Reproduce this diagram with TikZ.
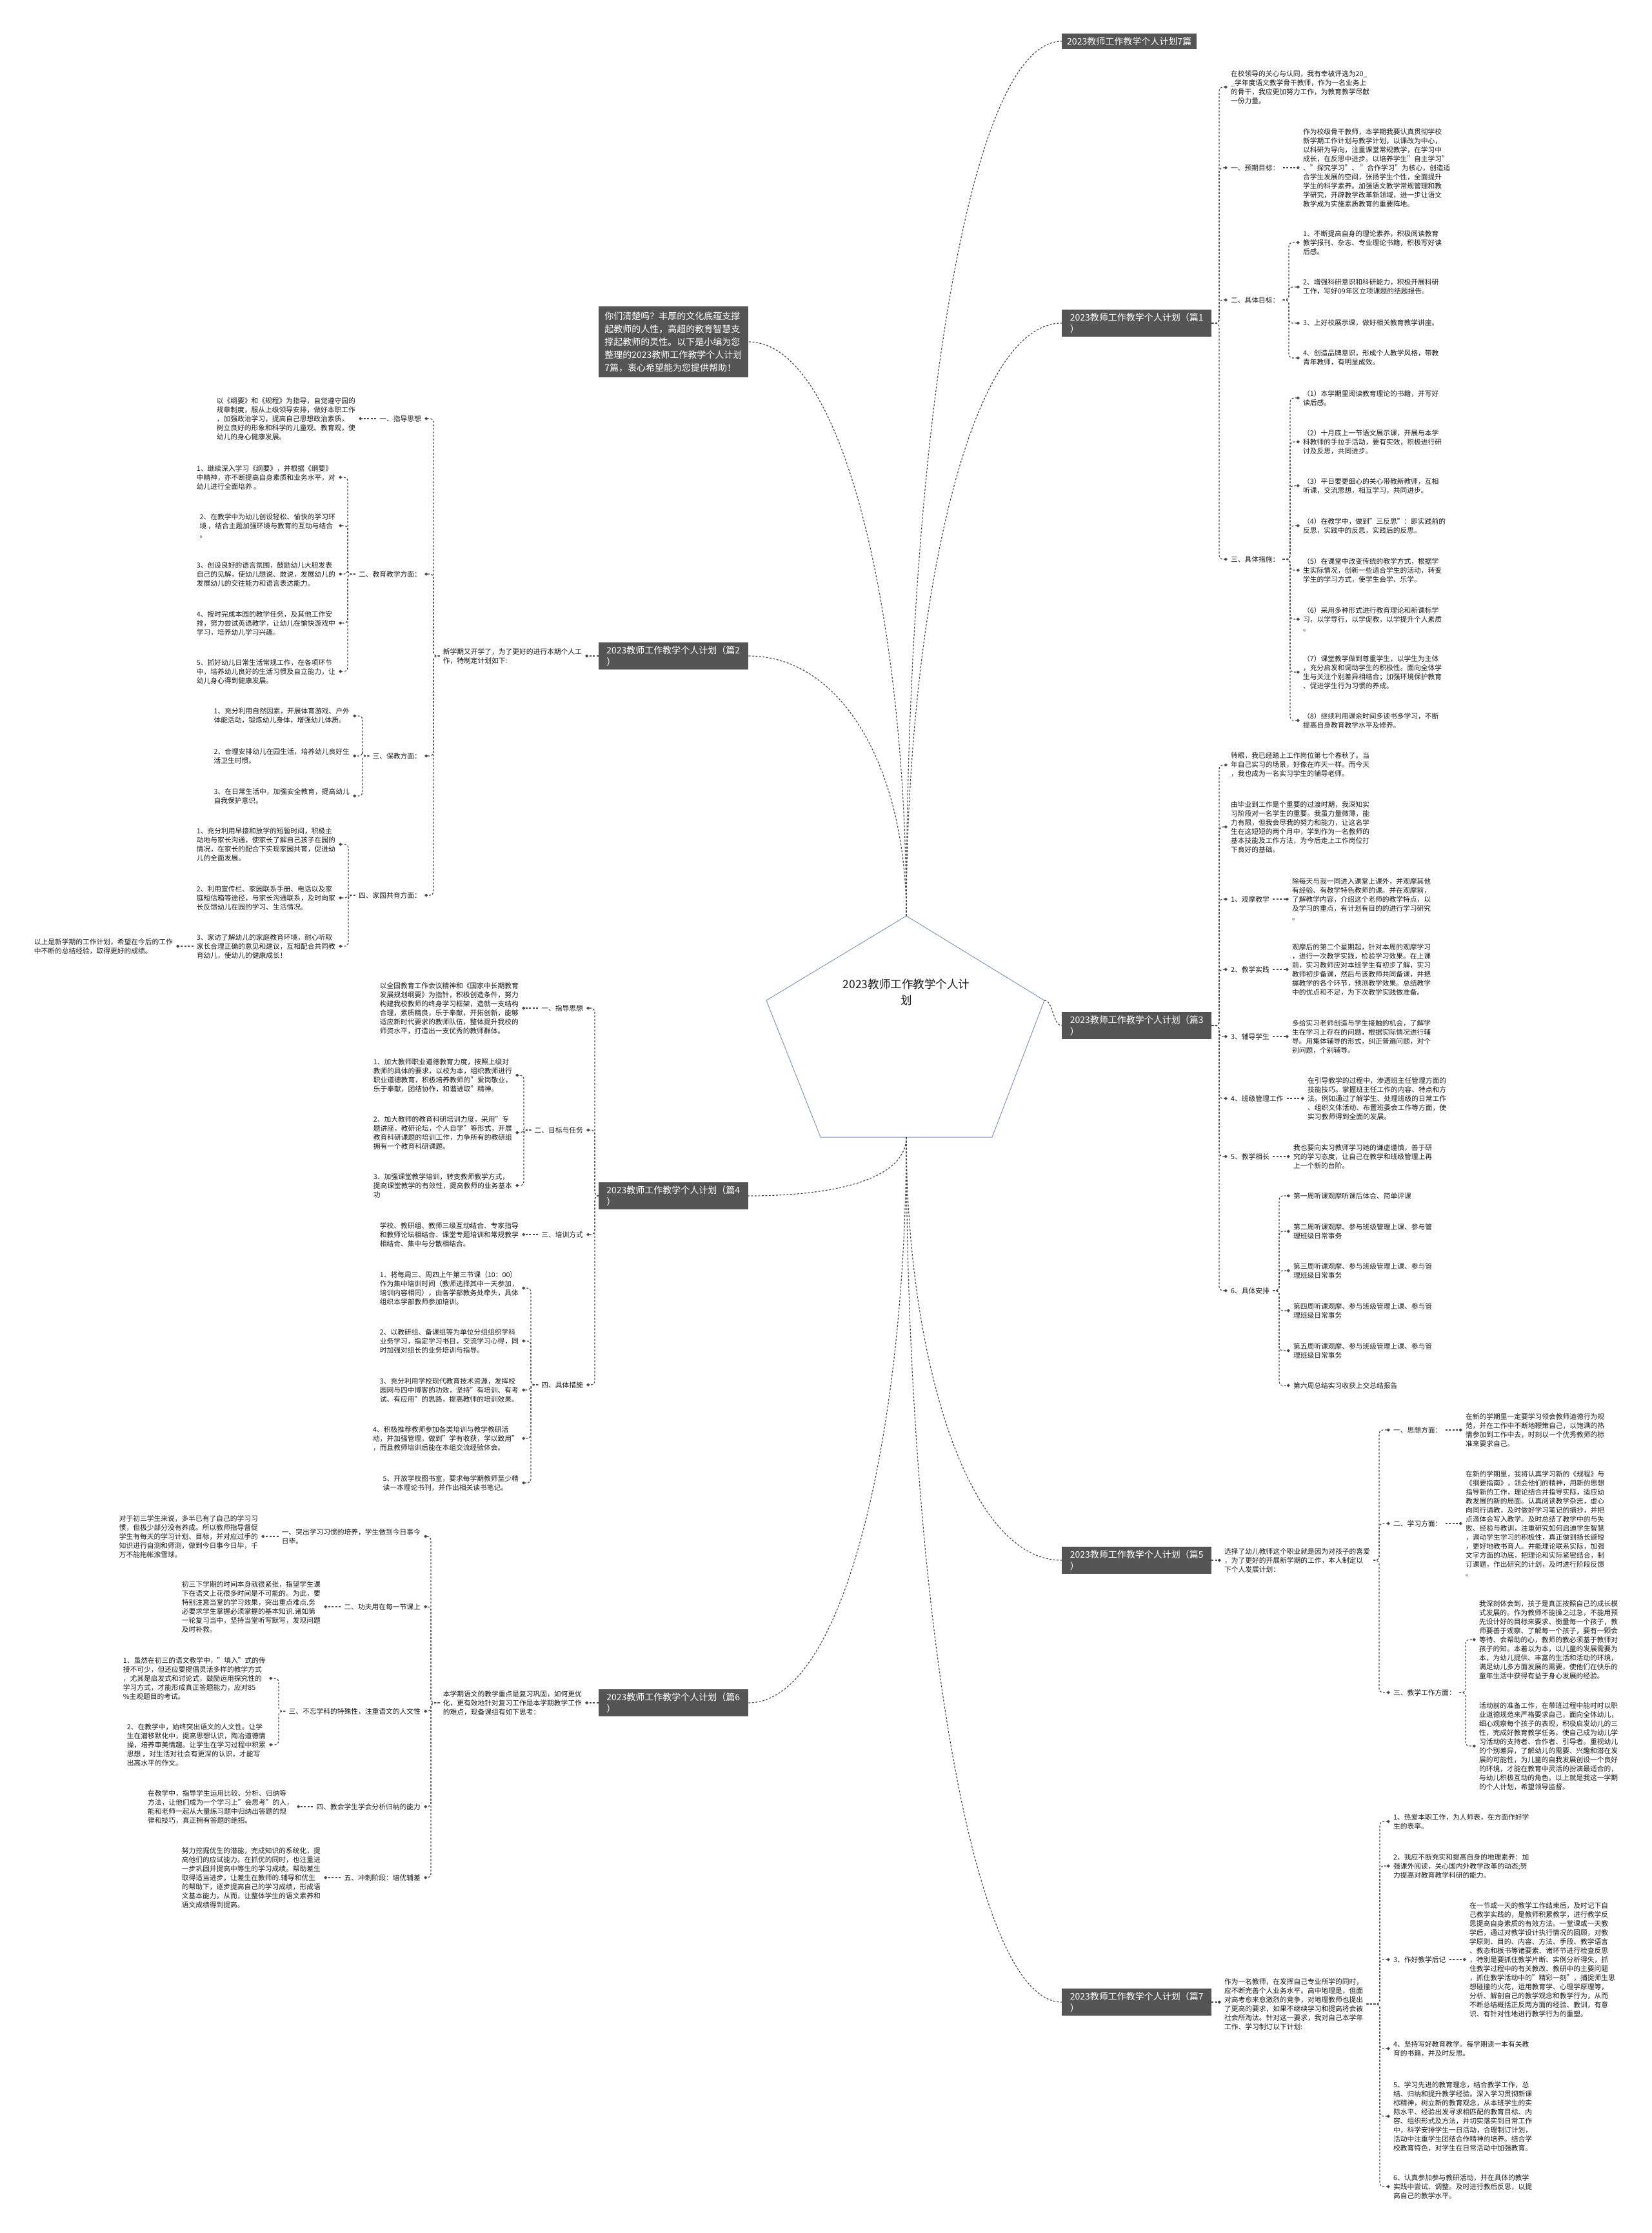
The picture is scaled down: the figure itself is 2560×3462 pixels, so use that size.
\documentclass[tikz,border=0pt]{standalone}
\usepackage{fontspec}
\setmainfont{Noto Sans CJK SC}
\usetikzlibrary{arrows.meta}
\definecolor{boxc}{HTML}{555555}
\definecolor{lc}{HTML}{4A4A4A}
\definecolor{pc}{HTML}{7F97C2}
\definecolor{tc}{HTML}{1A1A1A}
\newcommand\linkR[3]{\draw[conn] (#1.east) -- (#1.east -| #3) |- (#2.west);}
\newcommand\linkL[3]{\draw[conn] (#1.west) -- (#1.west -| #3) |- (#2.east);}
\newcommand\linkRd[2]{\draw[conn] (#1.east) -- (#2.west |- #1.east);}
\newcommand\linkLd[2]{\draw[conn] (#1.west) -- (#2.east |- #1.west);}
\begin{document}
\begin{tikzpicture}[x=1pt,y=-1pt,
 txt/.style={font=\fontsize{10.75}{14}\selectfont, align=left, inner sep=5pt, text=tc},
 txtR/.style={txt, anchor=west},
 txtL/.style={txt, anchor=east},
 mbox/.style={fill=boxc, text=white, font=\fontsize{14}{18}\selectfont, align=left, inner xsep=8pt, inner ysep=5pt, minimum width=232pt},
 conn/.style={draw=lc, line width=1.2pt, dash pattern=on 3pt off 2.5pt, rounded corners=6pt, -{Diamond[length=5.5pt,width=5pt]}},
 mconn/.style={draw=lc, line width=1.2pt, dash pattern=on 3pt off 2.5pt}
]
\useasboundingbox (0,0) rectangle (2560,3462);
\fill[white] (0,0) rectangle (2560,3462);

% ---------- centre ----------
\coordinate (ptop) at (1405,1420);
\coordinate (pr) at (1619,1551);
\coordinate (pl) at (1188,1551);
\coordinate (pbr) at (1538,1763);
\coordinate (pbl) at (1272,1763);
\coordinate (pbot) at (1405,1763);
\draw[pc, line width=1pt, fill=white] (ptop) -- (pr) -- (pbr) -- (pbl) -- (pl) -- cycle;
\node[font=\fontsize{17.5}{25}\selectfont, align=center, text=tc] (cn) at (1405,1538) {2023教师工作教学个人计\\划};

% ---------- main boxes ----------
\node[mbox, minimum width=0pt, anchor=west] (hdr) at (1646,64) {2023教师工作教学个人计划7篇};
\node[mbox, anchor=west] (b1) at (1646,501) {2023教师工作教学个人计划（篇1\\）};
\node[mbox, anchor=east, font=\fontsize{14}{20}\selectfont, inner ysep=8pt] (intro) at (1160,530) {你们清楚吗？丰厚的文化底蕴支撑\\起教师的人性，高超的教育智慧支\\撑起教师的灵性。以下是小编为您\\整理的2023教师工作教学个人计划\\7篇，衷心希望能为您提供帮助！};
\node[mbox, anchor=east] (b2) at (1160,1017) {2023教师工作教学个人计划（篇2\\）};
\node[mbox, anchor=west] (b3) at (1646,1590) {2023教师工作教学个人计划（篇3\\）};
\node[mbox, anchor=east] (b4) at (1160,1854) {2023教师工作教学个人计划（篇4\\）};
\node[mbox, anchor=west] (b5) at (1646,2419) {2023教师工作教学个人计划（篇5\\）};
\node[mbox, anchor=east] (b6) at (1160,2640) {2023教师工作教学个人计划（篇6\\）};
\node[mbox, anchor=west] (b7) at (1646,3104) {2023教师工作教学个人计划（篇7\\）};

\draw[mconn] (ptop) .. controls +(0,-700) and +(-150,0) .. (hdr.west);
\draw[mconn] (ptop) .. controls +(0,-450) and +(-150,0) .. (b1.west);
\draw[mconn] (ptop) .. controls +(0,-450) and +(150,0) .. (intro.east);
\draw[mconn] (ptop) .. controls +(0,-220) and +(150,0) .. (b2.east);
\draw[mconn] (pr) .. controls +(14,0) and +(-14,0) .. (b3.west);
\draw[mconn] (pbot) .. controls +(0,60) and +(150,0) .. (b4.east);
\draw[mconn] (pbot) .. controls +(0,450) and +(150,0) .. (b6.east);
\draw[mconn] (pbot) .. controls +(0,330) and +(-150,0) .. (b5.west);
\draw[mconn] (pbot) .. controls +(0,650) and +(-150,0) .. (b7.west);

% ---------- 篇1 ----------
\coordinate (s1) at (1890,0);
\coordinate (s1b) at (1998,0);
\coordinate (s1c) at (2000,0);
\node[txtR] (p1a) at (1903,135) {在校领导的关心与认同，我有幸被评选为20\_\\\_学年度语文教学骨干教师，作为一名业务上\\的骨干，我应更加努力工作，为教育教学尽献\\一份力量。};
\node[txtR] (l1a) at (1903,260) {一、预期目标：};
\node[txtR] (t1a) at (2015,260) {作为校级骨干教师，本学期我要认真贯彻学校\\新学期工作计划与教学计划，以课改为中心，\\以科研为导向，注重课堂常规教学，在学习中\\成长，在反思中进步。以培养学生"自主学习"\\、"探究学习"、 "合作学习"为核心，创造适\\合学生发展的空间，张扬学生个性，全面提升\\学生的科学素养。加强语文教学常规管理和教\\学研究，开辟教学改革新领域，进一步让语文\\教学成为实施素质教育的重要阵地。};
\node[txtR] (l1b) at (1903,465) {二、具体目标：};
\node[txtR] (t1b1) at (2015,376) {1、不断提高自身的理论素养，积极阅读教育\\教学报刊、杂志、专业理论书籍，积极写好读\\后感。};
\node[txtR] (t1b2) at (2015,445) {2、增强科研意识和科研能力，积极开展科研\\工作，写好09年区立项课题的结题报告。};
\node[txtR] (t1b3) at (2015,501) {3、上好校展示课，做好相关教育教学讲座。};
\node[txtR] (t1b4) at (2015,555) {4、创造品牌意识，形成个人教学风格，带教\\青年教师，有明显成效。};
\node[txtR] (l1c) at (1903,867) {三、具体措施：};
\node[txtR] (t1c1) at (2015,617) {（1）本学期里阅读教育理论的书籍，并写好\\读后感。};
\node[txtR] (t1c2) at (2015,685) {（2）十月底上一节语文展示课，开展与本学\\科教师的手拉手活动，要有实效，积极进行研\\讨及反思，共同进步。};
\node[txtR] (t1c3) at (2015,753) {（3）平日要更细心的关心带教新教师，互相\\听课，交流思想，相互学习，共同进步。};
\node[txtR] (t1c4) at (2015,815) {（4）在教学中，做到"三反思"：即实践前的\\反思，实践中的反思，实践后的反思。};
\node[txtR] (t1c5) at (2015,884) {（5）在课堂中改变传统的教学方式，根据学\\生实际情况，创新一些适合学生的活动，转变\\学生的学习方式，使学生会学、乐学。};
\node[txtR] (t1c6) at (2015,960) {（6）采用多种形式进行教育理论和新课标学\\习，以学导行，以学促教，以学提升个人素质\\。};
\node[txtR] (t1c7) at (2015,1042) {（7）课堂教学做到尊重学生，以学生为主体\\，充分启发和调动学生的积极性。面向全体学\\生与关注个别差异相结合；加强环境保护教育\\、促进学生行为习惯的养成。};
\node[txtR] (t1c8) at (2015,1117) {（8）继续利用课余时间多读书多学习，不断\\提高自身教育教学水平及修养。};
\linkR{b1}{p1a}{s1}
\linkR{b1}{l1a}{s1}
\linkR{b1}{l1b}{s1}
\linkR{b1}{l1c}{s1}
\linkRd{l1a}{t1a}
\foreach \c in {t1b1,t1b2,t1b3,t1b4}{\linkR{l1b}{\c}{s1b}}
\foreach \c in {t1c1,t1c2,t1c3,t1c4,t1c5,t1c6,t1c7,t1c8}{\linkR{l1c}{\c}{s1c}}

% ---------- 篇3 ----------
\coordinate (s3) at (1890,0);
\coordinate (s3f) at (1983,0);
\node[txtR] (p3a) at (1903,1186) {转眼，我已经踏上工作岗位第七个春秋了。当\\年自己实习的场景，好像在昨天一样。而今天\\，我也成为一名实习学生的辅导老师。};
\node[txtR] (p3b) at (1903,1282) {由毕业到工作是个重要的过渡时期，我深知实\\习阶段对一名学生的重要。我虽力量微薄，能\\力有限，但我会尽我的努力和能力，让这名学\\生在这短短的两个月中，学到作为一名教师的\\基本技能及工作方法，为今后走上工作岗位打\\下良好的基础。};
\node[txtR] (l3a) at (1903,1394) {1、观摩教学};
\node[txtR] (t3a) at (1998,1394) {除每天与我一同进入课堂上课外，并观摩其他\\有经验、有教学特色教师的课。并在观摩前，\\了解教学内容，介绍这个老师的教学特点，以\\及学习的重点，有计划有目的的进行学习研究\\。};
\node[txtR] (l3b) at (1903,1503) {2、教学实践};
\node[txtR] (t3b) at (1998,1503) {观摩后的第二个星期起，针对本周的观摩学习\\，进行一次教学实践，检验学习效果。在上课\\前，实习教师应对本班学生有初步了解，实习\\教师初步备课，然后与该教师共同备课，并把\\握教学的各个环节，预测教学效果。总结教学\\中的优点和不足，为下次教学实践做准备。};
\node[txtR] (l3c) at (1903,1607) {3、辅导学生};
\node[txtR] (t3c) at (1998,1607) {多给实习老师创造与学生接触的机会，了解学\\生在学习上存在的问题，根据实际情况进行辅\\导。用集体辅导的形式，纠正普遍问题，对个\\别问题，个别辅导。};
\node[txtR] (l3d) at (1903,1703) {4、班级管理工作};
\node[txtR] (t3d) at (2022,1703) {在引导教学的过程中，渗透班主任管理方面的\\技能技巧。掌握班主任工作的内容、特点和方\\法。例如通过了解学生、处理班级的日常工作\\、组织文体活动、布置班委会工作等方面，使\\实习教师得到全面的发展。};
\node[txtR] (l3e) at (1903,1793) {5、教学相长};
\node[txtR] (t3e) at (2000,1793) {我也要向实习教师学习她的谦虚谨慎，善于研\\究的学习态度，让自己在教学和班级管理上再\\上一个新的台阶。};
\node[txtR] (l3f) at (1903,2001) {6、具体安排};
\node[txtR] (t3f1) at (2000,1854) {第一周听课观摩听课后体会、简单评课};
\node[txtR] (t3f2) at (2000,1909) {第二周听课观摩、参与班级管理上课、参与管\\理班级日常事务};
\node[txtR] (t3f3) at (2000,1970) {第三周听课观摩、参与班级管理上课、参与管\\理班级日常事务};
\node[txtR] (t3f4) at (2000,2032) {第四周听课观摩、参与班级管理上课、参与管\\理班级日常事务};
\node[txtR] (t3f5) at (2000,2094) {第五周听课观摩、参与班级管理上课、参与管\\理班级日常事务};
\node[txtR] (t3f6) at (2000,2148) {第六周总结实习收获上交总结报告};
\foreach \c in {p3a,p3b,l3a,l3b,l3c,l3d,l3e,l3f}{\linkR{b3}{\c}{s3}}
\linkRd{l3a}{t3a}
\linkRd{l3b}{t3b}
\linkRd{l3c}{t3c}
\linkRd{l3d}{t3d}
\linkRd{l3e}{t3e}
\foreach \c in {t3f1,t3f2,t3f3,t3f4,t3f5,t3f6}{\linkR{l3f}{\c}{s3f}}

% ---------- 篇5 ----------
\coordinate (s5) at (2138,0);
\coordinate (s5c) at (2272,0);
\node[txtR] (i5) at (1893,2419) {选择了幼儿教师这个职业就是因为对孩子的喜爱\\，为了更好的开展新学期的工作，本人制定以\\下个人发展计划：};
\node[txtR] (l5a) at (2155,2217) {一、思想方面：};
\node[txtR] (t5a) at (2267,2217) {在新的学期里一定要学习领会教师道德行为规\\范，并在工作中不断地鞭策自己，以饱满的热\\情参加到工作中去，时刻以一个优秀教师的标\\准来要求自己。};
\node[txtR] (l5b) at (2155,2362) {二、学习方面：};
\node[txtR] (t5b) at (2267,2362) {在新的学期里，我将认真学习新的《规程》与\\《纲要指南》，领会他们的精神，用新的思想\\指导新的工作，理论结合并指导实际，适应幼\\教发展的新的局面。认真阅读教学杂志，虚心\\向同行请教，及时做好学习笔记的摘抄，并把\\点滴体会写入教学。及时总结了教学中的与失\\败、经验与教训，注重研究如何启迪学生智慧\\，调动学生学习的积极性，真正做到扬长避短\\，更好地教书育人。并能理论联系实际，加强\\文字方面的功底，把理论和实际紧密结合，制\\订课题，作出研究的计划，及时进行阶段反馈\\。};
\node[txtR] (l5c) at (2155,2624) {三、教学工作方面：};
\node[txtR] (t5c1) at (2288,2542) {我深刻体会到，孩子是真正按照自己的成长模\\式发展的。作为教师不能操之过急，不能用预\\先设计好的目标来要求、衡量每一个孩子，教\\师要善于观察、了解每一个孩子，要有一颗会\\等待、会帮助的心，教师的教必须基于教师对\\孩子的知。本着以为本，以儿童的发展需要为\\本，为幼儿提供、丰富的生活和活动的环境，\\满足幼儿多方面发展的需要，使他们在快乐的\\童年生活中获得有益于身心发展的经验。};
\node[txtR] (t5c2) at (2288,2707) {活动前的准备工作，在带班过程中能时时以职\\业道德规范来严格要求自己，面向全体幼儿，\\细心观察每个孩子的表现，积极启发幼儿的三\\性，完成好教育教学任务。使自己成为幼儿学\\习活动的支持者、合作者、引导者。重视幼儿\\的个别差异，了解幼儿的需要、兴趣和潜在发\\展的可能性，为儿童的自我发展创设一个良好\\的环境，才能在教育中灵活的扮演最适合的，\\与幼儿积极互动的角色。以上就是我这一学期\\的个人计划，希望领导监督。};
\linkRd{b5}{i5}
\foreach \c in {l5a,l5b,l5c}{\linkR{i5}{\c}{s5}}
\linkRd{l5a}{t5a}
\linkRd{l5b}{t5b}
\foreach \c in {t5c1,t5c2}{\linkR{l5c}{\c}{s5c}}

% ---------- 篇7 ----------
\coordinate (s7) at (2139,0);
\node[txtR] (i7) at (1893,3107) {作为一名教师，在发挥自己专业所学的同时，\\应不断完善个人业务水平。高中地理是，但面\\对高考愈来愈激烈的竞争，对地理教师也提出\\了更高的要求，如果不继续学习和提高将会被\\社会所淘汰。针对这一要求，我对自己本学年\\工作、学习制订以下计划:};
\node[txtR] (t7a) at (2155,2824) {1、热爱本职工作，为人师表，在方面作好学\\生的表率。};
\node[txtR] (t7b) at (2155,2893) {2、我应不断充实和提高自身的地理素养：加\\强课外阅读，关心国内外教学改革的动态;努\\力提高对教育教学科研的能力。};
\node[txtR] (l7c) at (2155,3038) {3、作好教学后记};
\node[txtR] (t7c) at (2273,3038) {在一节或一天的教学工作结束后，及时记下自\\己教学实践的，是教师积累教学，进行教学反\\思提高自身素质的有效方法。一堂课或一天教\\学后，通过对教学设计执行情况的回顾，对教\\学原则、目的、内容、方法、手段、教学语言\\、教态和板书等诸要素、诸环节进行检查反思\\，特别是要抓住教学片断、实例分析得失，抓\\住教学过程中的有关教改、教研中的主要问题\\，抓住教学活动中的"精彩一刻"，捕捉师生思\\想碰撞的火花，运用教育学、心理学原理等，\\分析、解剖自己的教学观念和教学行为，从而\\不断总结概括正反两方面的经验、教训，有意\\识、有针对性地进行教学行为的重塑。};
\node[txtR] (t7d) at (2155,3176) {4、坚持写好教育教学。每学期读一本有关教\\育的书籍，并及时反思。};
\node[txtR] (t7e) at (2155,3281) {5、学习先进的教育理念，结合教学工作，总\\结、归纳和提升教学经验。深入学习贯彻新课\\标精神，树立新的教育观念，从本班学生的实\\际水平、经验出发寻求相匹配的教育目标、内\\容、组织形式及方法，并切实落实到日常工作\\中，科学安排学生一日活动，合理制订计划，\\活动中注重学生团结合作精神的培养。结合学\\校教育特色，对学生在日常活动中加强教育。};
\node[txtR] (t7f) at (2155,3390) {6、认真参加参与教研活动，并在具体的教学\\实践中尝试、调整。及时进行教后反思，以提\\高自己的教学水平。};
\linkRd{b7}{i7}
\foreach \c in {t7a,t7b,l7c,t7d,t7e,t7f}{\linkR{i7}{\c}{s7}}
\linkRd{l7c}{t7c}

% ---------- 篇2 ----------
\coordinate (s2) at (672,0);
\coordinate (s2b) at (539,0);
\coordinate (s2c) at (562,0);
\coordinate (s2d) at (540,0);
\node[txtL] (i2) at (907,1017) {新学期又开学了，为了更好的进行本期个人工\\作，特制定计划如下:};
\node[txtL] (l2a) at (658,649) {一、指导思想};
\node[txtL] (t2a) at (556,649) {以《纲要》和《规程》为指导，自觉遵守园的\\规章制度，服从上级领导安排，做好本职工作\\，加强政治学习，提高自己思想政治素质，\\树立良好的形象和科学的儿童观、教育观，使\\幼儿的身心健康发展。};
\node[txtL] (l2b) at (658,890) {二、教育教学方面：};
\node[txtL] (t2b1) at (525,740) {1、继续深入学习《纲要》，并根据《纲要》\\中精神，亦不断提高自身素质和业务水平，对\\幼儿进行全面培养 。};
\node[txtL] (t2b2) at (525,815) {2、在教学中为幼儿创设轻松、愉快的学习环\\境 ，结合主题加强环境与教育的互动与结合\\。};
\node[txtL] (t2b3) at (525,890) {3、创设良好的语言氛围，鼓励幼儿大胆发表\\自己的见解，使幼儿想说、敢说，发展幼儿的\\发展幼儿的交往能力和语言表达能力。};
\node[txtL] (t2b4) at (525,966) {4、按时完成本园的教学任务，及其他工作安\\排，努力尝试英语教学，让幼儿在愉快游戏中\\学习，培养幼儿学习兴趣。};
\node[txtL] (t2b5) at (525,1041) {5、抓好幼儿日常生活常规工作，在各项环节\\中，培养幼儿良好的生活习惯及自立能力，让\\幼儿身心得到健康发展。};
\node[txtL] (l2c) at (658,1172) {三、保教方面：};
\node[txtL] (t2c1) at (547,1110) {1、充分利用自然因素，开展体育游戏、户外\\体能活动，锻炼幼儿身体，增强幼儿体质。};
\node[txtL] (t2c2) at (547,1172) {2、合理安排幼儿在园生活，培养幼儿良好生\\活卫生时惯。};
\node[txtL] (t2c3) at (547,1234) {3、在日常生活中，加强安全教育，提高幼儿\\自我保护意识。};
\node[txtL] (l2d) at (658,1388) {四、家园共育方面：};
\node[txtL] (t2d1) at (525,1309) {1、充分利用早接和放学的短暂时间，积极主\\动地与家长沟通，使家长了解自己孩子在园的\\情况，在家长的配合下实现家园共育，促进幼\\儿的全面发展。};
\node[txtL] (t2d2) at (525,1392) {2、利用宣传栏、家园联系手册、电话以及家\\庭短信箱等途径，与家长沟通联系，及时向家\\长反馈幼儿在园的学习、生活情况。};
\node[txtL] (t2d3) at (525,1467) {3、家访了解幼儿的家庭教育环境，耐心听取\\家长合理正确的意见和建议，互相配合共同教\\育幼儿，使幼儿的健康成长！};
\node[txtL] (t2e) at (273,1467) {以上是新学期的工作计划，希望在今后的工作\\中不断的总结经验，取得更好的成绩。};
\linkLd{b2}{i2}
\foreach \c in {l2a,l2b,l2c,l2d}{\linkL{i2}{\c}{s2}}
\linkLd{l2a}{t2a}
\foreach \c in {t2b1,t2b2,t2b3,t2b4,t2b5}{\linkL{l2b}{\c}{s2b}}
\foreach \c in {t2c1,t2c2,t2c3}{\linkL{l2c}{\c}{s2c}}
\foreach \c in {t2d1,t2d2,t2d3}{\linkL{l2d}{\c}{s2d}}
\linkLd{t2d3}{t2e}

% ---------- 篇4 ----------
\coordinate (s4) at (922,0);
\coordinate (s4b) at (812,0);
\coordinate (s4d) at (823,0);
\node[txtL] (l4a) at (909,1563) {一、指导思想};
\node[txtL] (t4a) at (809,1563) {以全国教育工作会议精神和《国家中长期教育\\发展规划纲要》为指针，积极创造条件，努力\\构建我校教师的终身学习框架，造就一支结构\\合理，素质精良，乐于奉献，开拓创新，能够\\适应新时代要求的教师队伍，整体提升我校的\\师资水平，打造出一支优秀的教师群体。};
\node[txtL] (l4b) at (909,1752) {二、目标与任务};
\node[txtL] (t4b1) at (799,1667) {1、加大教师职业道德教育力度，按照上级对\\教师的具体的要求，以校为本，组织教师进行\\职业道德教育，积极培养教师的"爱岗敬业，\\乐于奉献，团结协作，和谐进取"精神。};
\node[txtL] (t4b2) at (799,1756) {2、加大教师的教育科研培训力度，采用"专\\题讲座，教研论坛，个人自学"等形式，开展\\教育科研课题的培训工作，力争所有的教研组\\拥有一个教育科研课题。};
\node[txtL] (t4b3) at (799,1838) {3、加强课堂教学培训，转变教师教学方式，\\提高课堂教学的有效性，提高教师的业务基本\\功};
\node[txtL] (l4c) at (909,1914) {三、培训方式};
\node[txtL] (t4c) at (809,1914) {学校、教研组、教师三级互动结合、专家指导\\和教师论坛相结合、课堂专题培训和常规教学\\相结合、集中与分散相结合。};
\node[txtL] (l4d) at (909,2147) {四、具体措施};
\node[txtL] (t4d1) at (809,1997) {1、将每周三、周四上午第三节课（10：00）\\作为集中培训时间（教师选择其中一天参加，\\培训内容相同），由各学部教务处牵头，具体\\组织本学部教师参加培训。};
\node[txtL] (t4d2) at (809,2079) {2、以教研组、备课组等为单位分组组织学科\\业务学习，指定学习书目，交流学习心得，同\\时加强对组长的业务培训与指导。};
\node[txtL] (t4d3) at (809,2155) {3、充分利用学校现代教育技术资源，发挥校\\园网与四中博客的功效，坚持"有培训、有考\\试、有应用"的思路，提高教师的培训效果。};
\node[txtL] (t4d4) at (809,2230) {4、积极推荐教师参加各类培训与教学教研活\\动，并加强管理，做到"学有收获，学以致用"\\，而且教师培训后能在本组交流经验体会。};
\node[txtL] (t4d5) at (809,2299) {5、开放学校图书室，要求每学期教师至少精\\读一本理论书刊，并作出相关读书笔记。};
\foreach \c in {l4a,l4b,l4c,l4d}{\linkL{b4}{\c}{s4}}
\linkLd{l4a}{t4a}
\linkLd{l4c}{t4c}
\foreach \c in {t4b1,t4b2,t4b3}{\linkL{l4b}{\c}{s4b}}
\foreach \c in {t4d1,t4d2,t4d3,t4d4,t4d5}{\linkL{l4d}{\c}{s4d}}

% ---------- 篇6 ----------
\coordinate (s6) at (668,0);
\coordinate (s6c) at (432,0);
\node[txtL] (i6) at (907,2640) {本学期语文的教学重点是复习巩固，如何更优\\化，更有效地针对复习工作是本学期教学工作\\的难点，现备课组有如下思考：};
\node[txtL] (l6a) at (657,2382) {一、突出学习习惯的培养，学生做到今日事今\\日毕。};
\node[txtL] (t6a) at (405,2382) {对于初三学生来说，多半已有了自己的学习习\\惯，但极少部分没有养成。所以教师指导督促\\学生有每天的学习计划、目标，并对应过手的\\知识进行自测和师测，做到今日事今日毕，千\\万不能拖帐滚雪球。};
\node[txtL] (l6b) at (657,2491) {二、功夫用在每一节课上};
\node[txtL] (t6b) at (502,2491) {初三下学期的时间本身就很紧张，指望学生课\\下在语文上花很多时间是不可能的。为此，要\\特别注意当堂的学习效果，突出重点难点.务\\必要求学生掌握必须掌握的基本知识.诸如第\\一轮复习当中，坚持当堂听写默写，发现问题\\及时补救。};
\node[txtL] (l6c) at (657,2653) {三、不忘学科的特殊性，注重语文的人文性};
\node[txtL] (t6c1) at (417,2602) {1、虽然在初三的语文教学中，"填入"式的传\\授不可少，但还应要提倡灵活多样的教学方式\\，尤其是启发式和讨论式，鼓励运用探究性的\\学习方式，才能形成真正答题能力，应对85\\\%主观题目的考试。};
\node[txtL] (t6c2) at (417,2705) {2、在教学中，始终突出语文的人文性。让学\\生在潜移默化中，提高思想认识，陶冶道德情\\操，培养审美情趣。让学生在学习过程中积累\\思想 ，对生活对社会有更深的认识，才能写\\出高水平的作文。};
\node[txtL] (l6d) at (657,2801) {四、教会学生学会分析归纳的能力};
\node[txtL] (t6d) at (460,2801) {在教学中，指导学生运用比较、分析、归纳等\\方法，让他们成为一个学习上"会思考"的人，\\能和老师一起从大量练习题中归纳出答题的规\\律和技巧，真正拥有答题的绝招。};
\node[txtL] (l6e) at (657,2911) {五、冲刺阶段：培优辅差};
\node[txtL] (t6e) at (502,2911) {努力挖掘优生的潜能，完成知识的系统化，提\\高他们的应试能力。在抓优的同时，也注重进\\一步巩固并提高中等生的学习成绩。帮助差生\\取得适当进步，让差生在教师的.辅导和优生\\的帮助下，逐步提高自己的学习成绩，形成语\\文基本能力。从而，让整体学生的语文素养和\\语文成绩得到提高。};
\linkLd{b6}{i6}
\foreach \c in {l6a,l6b,l6c,l6d,l6e}{\linkL{i6}{\c}{s6}}
\linkLd{l6a}{t6a}
\linkLd{l6b}{t6b}
\linkLd{l6d}{t6d}
\linkLd{l6e}{t6e}
\foreach \c in {t6c1,t6c2}{\linkL{l6c}{\c}{s6c}}
\end{tikzpicture}
\end{document}
